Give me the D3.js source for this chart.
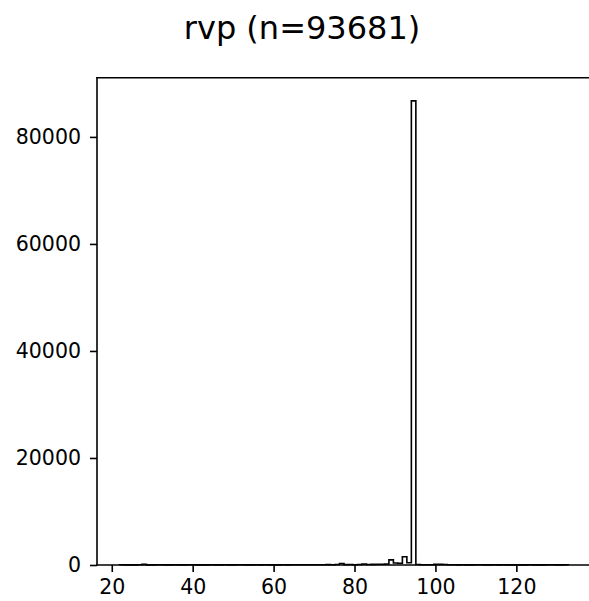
<!DOCTYPE html>
<html>
<head>
<meta charset="utf-8">
<script src="https://cdn.jsdelivr.net/npm/d3@7"></script>
<style>
  html, body { margin: 0; padding: 0; background: #fff; }
  svg { display: block; }
  text { font-family: "DejaVu Sans", sans-serif; fill: #000; }
</style>
</head>
<body>
<svg id="chart" width="589" height="601"></svg>
<script>
// ---- data ----
const title = "rvp (n=93681)";
const binStart = 21.9;
const binWidth = 1.11;
const counts = [
  40, 25, 30, 20, 35, 110, 30, 25, 40, 35,
  20, 30, 45, 25, 30, 35, 40, 20, 30, 25,
  35, 30, 25, 40, 30, 20, 35, 45, 30, 25,
  40, 30, 35, 25, 30, 20, 45, 30, 35, 40,
  50, 40, 60, 45, 55, 50, 70, 60, 80, 290,
  70, 90, 60, 80, 180, 90, 110, 130, 150, 200,
  950, 380, 320, 1550, 420, 86730, 90, 60, 50, 40,
  110, 120, 100, 40, 35, 30, 45, 25, 30, 40,
  35, 30, 25, 45, 30, 35, 20, 30, 40, 25,
  30, 35, 20, 30, 25, 35, 40, 30, 20, 35
];
const xTicks = [20, 40, 60, 80, 100, 120];
const yTicks = [0, 20000, 40000, 60000, 80000];

// ---- layout ----
const mLeft = 97, mRight = 591, mTop = 77.7, mBottom = 565;
const svg = d3.select("#chart");

const edges = counts.map((c, i) => binStart + i * binWidth);
edges.push(binStart + counts.length * binWidth);
const xMin = edges[0], xMax = edges[edges.length - 1];
const xPad = 0.05 * (xMax - xMin);
const yMax = d3.max(counts) * 1.05;

const x = d3.scaleLinear().domain([xMin - xPad, xMax + xPad]).range([mLeft, mRight]);
const y = d3.scaleLinear().domain([0, yMax]).range([mBottom, mTop]);

// step outline
const pts = [[edges[0], 0]];
counts.forEach((c, i) => { pts.push([edges[i], c]); pts.push([edges[i + 1], c]); });
pts.push([edges[edges.length - 1], 0]);
svg.append("path")
  .attr("d", d3.line().x(d => x(d[0])).y(d => y(d[1]))(pts))
  .attr("fill", "none")
  .attr("stroke", "#000")
  .attr("stroke-width", 1.6)
  .attr("stroke-linejoin", "miter");

// axes
const xAxis = svg.append("g").attr("transform", `translate(0,${mBottom})`)
  .call(d3.axisBottom(x).tickValues(xTicks).tickSize(7).tickPadding(7).tickFormat(d3.format("d")));
const yAxis = svg.append("g").attr("transform", `translate(${mLeft},0)`)
  .call(d3.axisLeft(y).tickValues(yTicks).tickSize(7).tickPadding(9).tickFormat(d3.format("d")));
[xAxis, yAxis].forEach(g => {
  g.select(".domain").remove();
  g.selectAll(".tick line").attr("stroke", "#000").attr("stroke-width", 1.6);
  g.selectAll(".tick text").style("font-size", "20.5px").style("font-family", "DejaVu Sans");
});

// spines
const sp = svg.append("g").attr("fill", "none").attr("stroke", "#000").attr("stroke-width", 1.6)
  .attr("stroke-linecap", "square");
sp.append("line").attr("x1", mLeft).attr("x2", mRight).attr("y1", mBottom).attr("y2", mBottom);
sp.append("line").attr("x1", mLeft).attr("x2", mRight).attr("y1", mTop).attr("y2", mTop);
sp.append("line").attr("x1", mLeft).attr("x2", mLeft).attr("y1", mTop).attr("y2", mBottom);
sp.append("line").attr("x1", mRight).attr("x2", mRight).attr("y1", mTop).attr("y2", mBottom);

// title
svg.append("text")
  .attr("x", 302).attr("y", 39)
  .attr("text-anchor", "middle")
  .style("font-size", "32px")
  .text(title);
</script>
</body>
</html>
